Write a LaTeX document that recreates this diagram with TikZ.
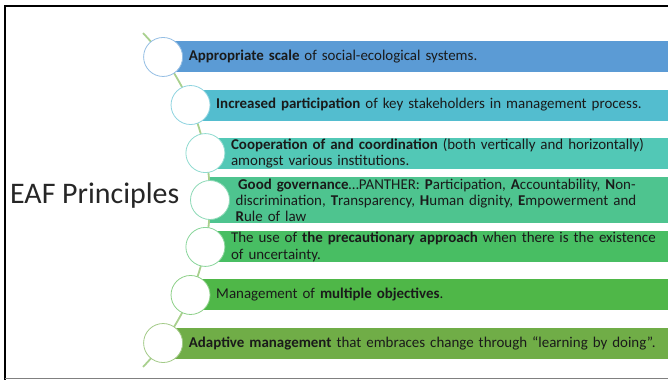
\documentclass[tikz,border=0pt]{standalone}
\usepackage{fontspec}
\setmainfont{Carlito}

% bar fills, top to bottom
\definecolor{barA}{HTML}{5B9BD5}
\definecolor{barB}{HTML}{53BDCF}
\definecolor{barC}{HTML}{52C8B6}
\definecolor{barD}{HTML}{4EC48F}
\definecolor{barE}{HTML}{48BE63}
\definecolor{barF}{HTML}{4FB748}
\definecolor{barG}{HTML}{70AD47}
\definecolor{spine}{HTML}{A9D08E}
\definecolor{ink}{HTML}{1A1A1A}

\begin{document}
\begin{tikzpicture}[x=1bp,y=1bp,
  bar/.style={anchor=west, rectangle, minimum height=31bp, text width=480bp,
    inner xsep=25.5bp, inner ysep=0pt, align=left, text=ink,
    font=\fontsize{15}{16.2}\selectfont},
  dot/.style={circle, fill=white, minimum size=39bp, inner sep=0pt, line width=0.8bp},
  spineline/.style={draw=spine, line width=1.8bp},
  title/.style={anchor=base west, inner sep=0pt, text=black!85,
    font=\fontsize{30}{36}\selectfont}]
\useasboundingbox (0,0) rectangle (668,379);

% slide frame
\draw[black, line width=2bp] (5,-2) -- (5,373) -- (672,373);
\draw[black!50, line width=1bp] (5,1) -- (672,1);

% curved spine shared by the seven markers
\coordinate (ctr) at (-31.6,179);
\coordinate (spineTop) at ([shift={(43.7:241.6)}]ctr);
\draw[spineline] (spineTop) arc[start angle=43.7, end angle=-43.7, radius=241.6];

\coordinate (p1) at ([shift={(36.3:241.6)}]ctr);
\coordinate (p2) at ([shift={(23.15:241.6)}]ctr);
\coordinate (p3) at ([shift={(11.2:241.6)}]ctr);
\coordinate (p4) at ([shift={(0:241.6)}]ctr);
\coordinate (p5) at ([shift={(-11.2:241.6)}]ctr);
\coordinate (p6) at ([shift={(-23.15:241.6)}]ctr);
\coordinate (p7) at ([shift={(-36.3:241.6)}]ctr);

% principle bars
\node[bar, fill=barA] (b1) at (p1) {\textbf{Appropriate scale} of social-ecological systems.};
\node[bar, fill=barB] (b2) at (p2) {\textbf{Increased participation} of key stakeholders in management process.};
\node[bar, fill=barC] (b3) at (p3) {\textbf{Cooperation of and coordination} (both vertically and horizontally)\\amongst various institutions.};
\node[bar, fill=barD, minimum height=46bp] (b4) at (p4) {\,\textbf{Good governance}…PANTHER: \textbf{P}articipation, \textbf{A}ccountability, \textbf{N}on-\\discrimination, \textbf{T}ransparency, \textbf{H}uman dignity, \textbf{E}mpowerment and\\\textbf{R}ule of law};
\node[bar, fill=barE] (b5) at (p5) {The use of \textbf{the precautionary approach} when there is the existence\\of uncertainty.};
\node[bar, fill=barF] (b6) at (p6) {Management of \textbf{multiple objectives}.};
\node[bar, fill=barG] (b7) at (p7) {\textbf{Adaptive management} that embraces change through “learning by doing”.};

% round markers on the spine
\node[dot, draw=barA!65] (d1) at (p1) {};
\node[dot, draw=barB!65] (d2) at (p2) {};
\node[dot, draw=barC!65] (d3) at (p3) {};
\node[dot, draw=barD!65] (d4) at (p4) {};
\node[dot, draw=barE!65] (d5) at (p5) {};
\node[dot, draw=barF!65] (d6) at (p6) {};
\node[dot, draw=barG!65] (d7) at (p7) {};

\node[title] (eaf) at (10,176) {EAF Principles};
\end{tikzpicture}
\end{document}
